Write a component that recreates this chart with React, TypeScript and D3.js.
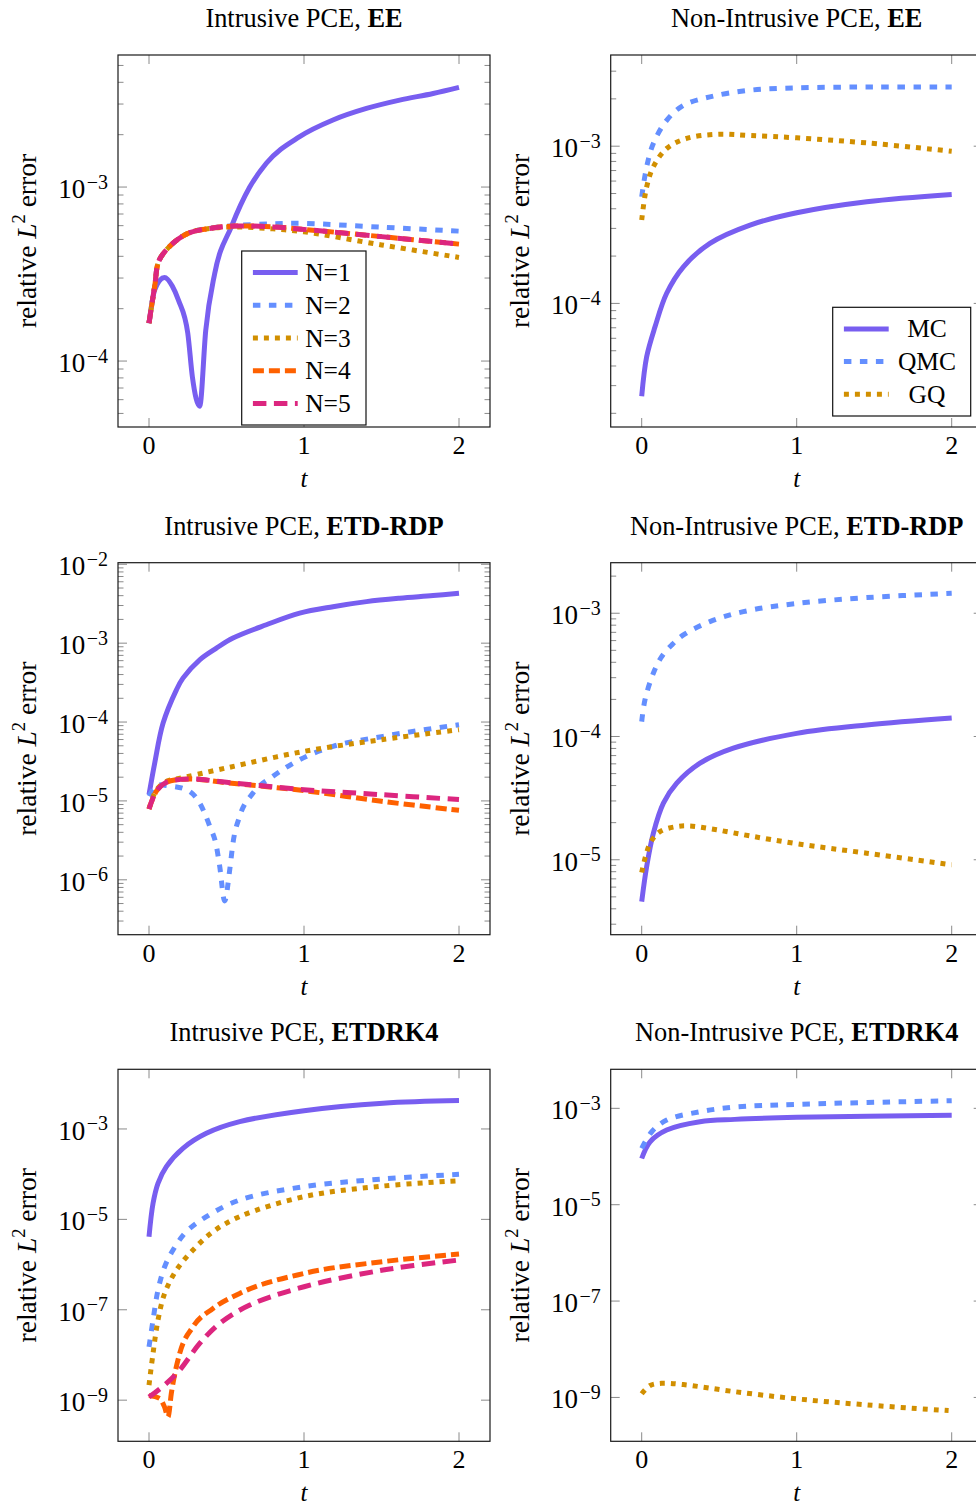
import React from 'react';
import * as d3 from 'd3';

type Pt = [number, number];

// ---- Intrusive PCE, EE ----
const eeIntrusiveN1: Pt[] = [[0, 1.65e-4], [0.037, 2.57e-4], [0.1, 3.02e-4], [0.15, 2.7e-4], [0.19, 2.24e-4], [0.25, 1.45e-4], [0.28, 8.1e-5], [0.327, 5.5e-5], [0.366, 1.5e-4], [0.424, 3.19e-4], [0.531, 5.91e-4], [0.65, 1.0e-3], [0.757, 1.37e-3], [0.972, 1.95e-3], [1.187, 2.43e-3], [1.403, 2.83e-3], [1.617, 3.16e-3], [1.833, 3.45e-3], [2, 3.74e-3]];
const eeIntrusiveN2: Pt[] = [[0, 1.65e-4], [0.037, 2.7e-4], [0.066, 3.8e-4], [0.166, 4.85e-4], [0.263, 5.47e-4], [0.39, 5.8e-4], [0.55, 6.0e-4], [0.8, 6.15e-4], [1, 6.18e-4], [1.5, 5.88e-4], [2, 5.58e-4]];
const eeIntrusiveN3: Pt[] = [[0, 1.65e-4], [0.037, 2.7e-4], [0.066, 3.8e-4], [0.166, 4.85e-4], [0.263, 5.47e-4], [0.39, 5.78e-4], [0.55, 5.9e-4], [0.8, 5.75e-4], [1, 5.53e-4], [1.5, 4.65e-4], [2, 3.94e-4]];
const eeIntrusiveN4: Pt[] = [[0, 1.65e-4], [0.037, 2.7e-4], [0.066, 3.8e-4], [0.166, 4.85e-4], [0.263, 5.47e-4], [0.39, 5.78e-4], [0.55, 5.97e-4], [0.8, 5.9e-4], [1, 5.71e-4], [1.5, 5.19e-4], [2, 4.7e-4]];
const eeIntrusiveN5: Pt[] = [[0, 1.65e-4], [0.037, 2.7e-4], [0.066, 3.8e-4], [0.166, 4.85e-4], [0.263, 5.47e-4], [0.39, 5.78e-4], [0.55, 5.97e-4], [0.8, 5.9e-4], [1, 5.71e-4], [1.5, 5.19e-4], [2, 4.7e-4]];

// ---- Non-Intrusive PCE, EE ----
const eeSampledMC: Pt[] = [[0, 2.57e-5], [0.032, 4.58e-5], [0.086, 7.1e-5], [0.161, 1.16e-4], [0.269, 1.71e-4], [0.44, 2.41e-4], [0.699, 3.15e-4], [1, 3.77e-4], [1.452, 4.43e-4], [2, 4.93e-4]];
const eeSampledQMC: Pt[] = [[0, 4.77e-4], [0.032, 7.39e-4], [0.075, 1.04e-3], [0.161, 1.46e-3], [0.269, 1.82e-3], [0.44, 2.06e-3], [0.699, 2.27e-3], [1, 2.35e-3], [1.5, 2.38e-3], [2, 2.38e-3]];
const eeSampledGQ: Pt[] = [[0, 3.39e-4], [0.032, 5.51e-4], [0.075, 7.39e-4], [0.161, 9.67e-4], [0.29, 1.12e-3], [0.484, 1.19e-3], [0.7, 1.17e-3], [1, 1.13e-3], [1.45, 1.05e-3], [2, 9.29e-4]];

// ---- Intrusive PCE, ETD-RDP ----
const rdpIntrusiveN1: Pt[] = [[0, 1.2e-5], [0.037, 3.03e-5], [0.091, 9.7e-5], [0.177, 2.56e-4], [0.219, 3.6e-4], [0.327, 6.15e-4], [0.435, 8.65e-4], [0.542, 1.16e-3], [0.757, 1.71e-3], [0.972, 2.4e-3], [1.187, 2.9e-3], [1.403, 3.36e-3], [1.617, 3.71e-3], [1.833, 4.01e-3], [2, 4.3e-3]];
const rdpIntrusiveN2: Pt[] = [[0, 1.15e-5], [0.06, 1.6e-5], [0.133, 1.55e-5], [0.241, 1.39e-5], [0.327, 9.4e-6], [0.392, 4.77e-6], [0.435, 2.66e-6], [0.456, 1.49e-6], [0.488, 5.4e-7], [0.521, 1.35e-6], [0.542, 2.94e-6], [0.585, 6.38e-6], [0.671, 1.26e-5], [0.8, 2.05e-5], [0.972, 3.33e-5], [1.187, 4.91e-5], [1.51, 6.57e-5], [2, 9.25e-5]];
const rdpIntrusiveN3: Pt[] = [[0, 7.9e-6], [0.05, 1.4e-5], [0.12, 1.8e-5], [0.177, 1.9e-5], [0.5, 2.62e-5], [1, 4.25e-5], [1.5, 5.97e-5], [2, 8.0e-5]];
const rdpIntrusiveN4: Pt[] = [[0, 7.9e-6], [0.05, 1.35e-5], [0.112, 1.72e-5], [0.26, 1.9e-5], [0.5, 1.7e-5], [1, 1.35e-5], [1.5, 9.9e-6], [2, 7.6e-6]];
const rdpIntrusiveN5: Pt[] = [[0, 7.9e-6], [0.05, 1.35e-5], [0.112, 1.72e-5], [0.26, 1.9e-5], [0.5, 1.72e-5], [1, 1.39e-5], [1.5, 1.2e-5], [2, 1.04e-5]];

// ---- Non-Intrusive PCE, ETD-RDP ----
const rdpSampledMC: Pt[] = [[0, 4.58e-6], [0.032, 8.8e-6], [0.075, 1.64e-5], [0.14, 2.88e-5], [0.226, 4.18e-5], [0.376, 6.07e-5], [0.591, 8.03e-5], [1, 1.06e-4], [1.452, 1.24e-4], [2, 1.41e-4]];
const rdpSampledQMC: Pt[] = [[0, 1.32e-4], [0.021, 1.98e-4], [0.075, 3.26e-4], [0.129, 4.45e-4], [0.194, 5.53e-4], [0.269, 6.67e-4], [0.44, 8.55e-4], [0.656, 1.03e-3], [1, 1.2e-3], [1.452, 1.34e-3], [2, 1.45e-3]];
const rdpSampledGQ: Pt[] = [[0, 7.87e-6], [0.054, 1.36e-5], [0.118, 1.69e-5], [0.226, 1.86e-5], [0.312, 1.88e-5], [0.484, 1.75e-5], [0.699, 1.56e-5], [1, 1.35e-5], [1.452, 1.13e-5], [2, 9.1e-6]];

// ---- Intrusive PCE, ETDRK4 ----
const rk4IntrusiveN1: Pt[] = [[0, 4.13e-6], [0.026, 2.26e-5], [0.058, 6.28e-5], [0.112, 1.47e-4], [0.219, 3.73e-4], [0.37, 8.02e-4], [0.585, 1.45e-3], [1, 2.54e-3], [1.51, 3.71e-3], [2, 4.24e-3]];
const rk4IntrusiveN2: Pt[] = [[0, 1.51e-8], [0.026, 5.9e-8], [0.058, 2.73e-7], [0.101, 8.95e-7], [0.155, 2.1e-6], [0.241, 5.33e-6], [0.37, 1.15e-5], [0.585, 2.68e-5], [1, 5.29e-5], [1.51, 7.82e-5], [2, 9.93e-5]];
const rk4IntrusiveN3: Pt[] = [[0, 2.15e-9], [0.026, 1.08e-8], [0.058, 5.9e-8], [0.101, 2.3e-7], [0.177, 7.56e-7], [0.284, 2.1e-6], [0.413, 5.33e-6], [0.585, 1.15e-5], [1, 3.18e-5], [1.51, 5.47e-5], [2, 7.16e-5]];
const rk4IntrusiveN4: Pt[] = [[0, 1.27e-9], [0.069, 1.09e-9], [0.1, 7.1e-10], [0.123, 4.27e-10], [0.144, 1.41e-9], [0.198, 1.08e-8], [0.284, 4.21e-8], [0.413, 1.07e-7], [0.585, 2.3e-7], [1, 6.38e-7], [1.51, 1.16e-6], [2, 1.71e-6]];
const rk4IntrusiveN5: Pt[] = [[0, 1.17e-9], [0.112, 2.34e-9], [0.198, 4.62e-9], [0.327, 1.8e-8], [0.456, 4.99e-8], [0.65, 1.27e-7], [1, 3.23e-7], [1.51, 7.56e-7], [2, 1.26e-6]];

// ---- Non-Intrusive PCE, ETDRK4 ----
const rk4SampledMC: Pt[] = [[0, 9.1e-5], [0.054, 2.02e-4], [0.161, 3.54e-4], [0.376, 5.27e-4], [0.6, 5.9e-4], [1, 6.5e-4], [2, 7.15e-4]];
const rk4SampledQMC: Pt[] = [[0, 1.47e-4], [0.065, 3.27e-4], [0.161, 5.71e-4], [0.376, 8.5e-4], [0.6, 1.06e-3], [1, 1.21e-3], [2, 1.44e-3]];
const rk4SampledGQ: Pt[] = [[0, 1.19e-9], [0.054, 1.77e-9], [0.129, 1.97e-9], [0.269, 1.85e-9], [0.591, 1.33e-9], [1, 9.35e-10], [1.452, 7.0e-10], [1.98, 5.33e-10]];

// axis ticks
const tTicks = [0, 1, 2];
const tDomain: [number, number] = [-0.2, 2.2];
const expTicksEE = [-4, -3];
const expTicksRdpIntrusive = [-6, -5, -4, -3, -2];
const expTicksRdpSampled = [-5, -4, -3];
const expTicksRk4 = [-9, -7, -5, -3];

const intrusiveLabels = ['N=1', 'N=2', 'N=3', 'N=4', 'N=5'];
const sampledLabels = ['MC', 'QMC', 'GQ'];

const lineStyles = [
  { color: '#785EF0', dash: undefined as string | undefined },
  { color: '#648FFF', dash: '7.5 8.5' },
  { color: '#D18F00', dash: '5 6' },
  { color: '#FE6100', dash: '11 5' },
  { color: '#DC267F', dash: '13.5 7.5' },
];
const LINE_W = 5;

const FONT = "'Liberation Serif', 'Times New Roman', serif";
const colLeft = [118, 610.7];
const rowTop = [55, 562.7, 1069.3];
const SIZE = 372;

type LegendCfg = { kind: 'intrusive' | 'sampled'; left: number; top: number; width: number; height: number };

type PanelCfg = {
  method: string;
  intrusive: boolean;
  series: Pt[][];
  sharp: number[]; // series with a cusp: use a monotone interpolation
  logRange: [number, number];
  exps: number[];
  minor: boolean;
  legend?: LegendCfg;
};

const panels: PanelCfg[][] = [
  [
    { method: 'EE', intrusive: true, series: [eeIntrusiveN1, eeIntrusiveN2, eeIntrusiveN3, eeIntrusiveN4, eeIntrusiveN5], sharp: [0], logRange: [-4.379, -2.241], exps: expTicksEE, minor: true, legend: { kind: 'intrusive', left: 241.7, top: 251, width: 124.3, height: 174 } },
    { method: 'EE', intrusive: false, series: [eeSampledMC, eeSampledQMC, eeSampledGQ], sharp: [], logRange: [-4.786, -2.42], exps: expTicksEE, minor: true, legend: { kind: 'sampled', left: 832.7, top: 307.3, width: 138, height: 108.7 } },
  ],
  [
    { method: 'ETD-RDP', intrusive: true, series: [rdpIntrusiveN1, rdpIntrusiveN2, rdpIntrusiveN3, rdpIntrusiveN4, rdpIntrusiveN5], sharp: [1], logRange: [-6.696, -1.98], exps: expTicksRdpIntrusive, minor: true },
    { method: 'ETD-RDP', intrusive: false, series: [rdpSampledMC, rdpSampledQMC, rdpSampledGQ], sharp: [], logRange: [-5.608, -2.59], exps: expTicksRdpSampled, minor: true },
  ],
  [
    { method: 'ETDRK4', intrusive: true, series: [rk4IntrusiveN1, rk4IntrusiveN2, rk4IntrusiveN3, rk4IntrusiveN4, rk4IntrusiveN5], sharp: [3], logRange: [-9.91, -1.68], exps: expTicksRk4, minor: false },
    { method: 'ETDRK4', intrusive: false, series: [rk4SampledMC, rk4SampledQMC, rk4SampledGQ], sharp: [], logRange: [-9.91, -2.19], exps: expTicksRk4, minor: false },
  ],
];

function Legend({ cfg }: { cfg: LegendCfg }) {
  const labels = cfg.kind === 'intrusive' ? intrusiveLabels : sampledLabels;
  return (
    <g>
      <rect x={cfg.left} y={cfg.top} width={cfg.width} height={cfg.height} fill="#fff" stroke="#111" strokeWidth={1.2} />
      {labels.map((lab, i) => {
        const cy = cfg.top + 21.6 + i * 32.7;
        const st = lineStyles[i];
        return (
          <g key={lab}>
            <line x1={cfg.left + 11.2} x2={cfg.left + 56} y1={cy} y2={cy} stroke={st.color} strokeWidth={LINE_W} strokeDasharray={st.dash} />
            {cfg.kind === 'intrusive' ? (
              <text x={cfg.left + 63.5} y={cy + 8.5} fontSize={25.5} fontFamily={FONT}>{lab}</text>
            ) : (
              <text x={cfg.left + 94.3} y={cy + 8.5} fontSize={25.5} fontFamily={FONT} textAnchor="middle">{lab}</text>
            )}
          </g>
        );
      })}
    </g>
  );
}

function Panel({ cfg, col, row }: { cfg: PanelCfg; col: number; row: number }) {
  const x0 = colLeft[col];
  const x1 = x0 + SIZE;
  const y0 = rowTop[row];
  const y1 = y0 + SIZE;
  const x = d3.scaleLinear().domain(tDomain).range([x0, x1]);
  const y = d3.scaleLog().domain([Math.pow(10, cfg.logRange[0]), Math.pow(10, cfg.logRange[1])]).range([y1, y0]);
  const smoothLine = d3.line<Pt>().x(d => x(d[0])).y(d => y(d[1])).curve(d3.curveCatmullRom.alpha(0.5));
  const sharpLine = d3.line<Pt>().x(d => x(d[0])).y(d => y(d[1])).curve(d3.curveMonotoneX);
  const cx = (x0 + x1) / 2;
  const cy = (y0 + y1) / 2;

  const minorVals: number[] = [];
  if (cfg.minor) {
    for (let k = Math.floor(cfg.logRange[0]); k <= Math.ceil(cfg.logRange[1]); k++) {
      for (let m = 2; m <= 9; m++) {
        const v = m * Math.pow(10, k);
        const lv = Math.log10(v);
        if (lv > cfg.logRange[0] && lv < cfg.logRange[1]) minorVals.push(v);
      }
    }
  }
  const tickColor = '#8a8a8a';
  const clipId = `clip-${row}-${col}`;

  return (
    <g>
      <defs>
        <clipPath id={clipId}>
          <rect x={x0} y={y0} width={SIZE} height={SIZE} />
        </clipPath>
      </defs>
      {/* title */}
      <text x={cx} y={y0 - 28} textAnchor="middle" fontSize={26.4} fontFamily={FONT}>
        {cfg.intrusive ? 'Intrusive PCE, ' : 'Non-Intrusive PCE, '}
        <tspan fontWeight="bold">{cfg.method}</tspan>
      </text>
      {/* minor ticks */}
      {minorVals.map((v, i) => (
        <g key={`mn${i}`}>
          <line x1={x0} x2={x0 + 5.5} y1={y(v)} y2={y(v)} stroke={tickColor} strokeWidth={1} />
          <line x1={x1} x2={x1 - 5.5} y1={y(v)} y2={y(v)} stroke={tickColor} strokeWidth={1} />
        </g>
      ))}
      {/* major y ticks and labels */}
      {cfg.exps.map(e => {
        const py = y(Math.pow(10, e));
        return (
          <g key={`e${e}`}>
            <line x1={x0} x2={x0 + 9} y1={py} y2={py} stroke={tickColor} strokeWidth={1} />
            <line x1={x1} x2={x1 - 9} y1={py} y2={py} stroke={tickColor} strokeWidth={1} />
            <text x={x0 - 10} y={py + 11} textAnchor="end" fontSize={27} fontFamily={FONT}>
              10<tspan dx={1.5} dy={-9.5} fontSize={20}>{`\u2212${Math.abs(e)}`}</tspan>
            </text>
          </g>
        );
      })}
      {/* x ticks */}
      {tTicks.map(t => (
        <g key={`t${t}`}>
          <line x1={x(t)} x2={x(t)} y1={y1} y2={y1 - 9} stroke={tickColor} strokeWidth={1} />
          <line x1={x(t)} x2={x(t)} y1={y0} y2={y0 + 9} stroke={tickColor} strokeWidth={1} />
          <text x={x(t)} y={y1 + 27} textAnchor="middle" fontSize={26} fontFamily={FONT}>{t}</text>
        </g>
      ))}
      {/* series */}
      <g clipPath={`url(#${clipId})`}>
        {cfg.series.map((s, i) => (
          <path key={i} d={(cfg.sharp.includes(i) ? sharpLine(s) : smoothLine(s)) ?? ''} fill="none"
            stroke={lineStyles[i].color} strokeWidth={LINE_W}
            strokeDasharray={lineStyles[i].dash} strokeLinejoin="round" />
        ))}
      </g>
      {/* frame */}
      <rect x={x0} y={y0} width={SIZE} height={SIZE} fill="none" stroke="#1a1a1a" strokeWidth={1.2} />
      {cfg.legend && <Legend cfg={cfg.legend} />}
      {/* axis labels */}
      <text x={cx} y={y1 + 60} textAnchor="middle" fontSize={25} fontFamily={FONT} fontStyle="italic">t</text>
      <text transform={`translate(${x0 - 82}, ${cy}) rotate(-90)`} textAnchor="middle" fontSize={27.5} fontFamily={FONT}>
        relative <tspan fontStyle="italic">L</tspan><tspan dy={-11} fontSize={18.5}>2</tspan><tspan dy={11}> error</tspan>
      </text>
    </g>
  );
}

export default function App() {
  return (
    <svg width={976} height={1507} viewBox="0 0 976 1507"
      style={{ position: 'absolute', left: 0, top: 0, background: '#fff' }}>
      <rect x={0} y={0} width={976} height={1507} fill="#fff" />
      {panels.map((rowCfgs, r) => rowCfgs.map((cfg, c) => <Panel key={`${r}-${c}`} cfg={cfg} col={c} row={r} />))}
    </svg>
  );
}
